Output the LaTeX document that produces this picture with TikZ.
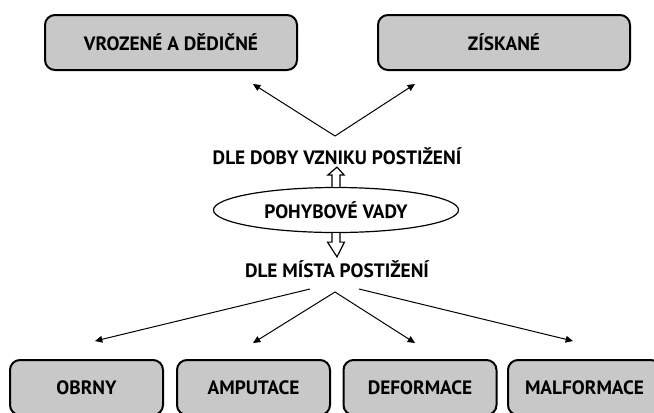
\documentclass[tikz,border=0pt]{standalone}
\usepackage{fontspec}
\setmainfont{PT Sans}
\usetikzlibrary{shapes.geometric, arrows.meta, calc}
\definecolor{boxgray}{HTML}{C8C8C8}

\begin{document}
\begin{tikzpicture}[
    x=0.75pt, y=-0.75pt,
    druh/.style={draw, line width=1.5pt, rectangle, rounded corners=7.5pt, fill=boxgray, minimum width=189pt, minimum height=41.25pt, font=\bfseries\fontsize{14.5}{17}\selectfont},
    misto/.style={druh, minimum width=114.75pt},
    hlavni/.style={draw, line width=0.9pt, ellipse, minimum width=183.75pt, minimum height=33.75pt, inner sep=0pt, font=\bfseries\fontsize{14.5}{17}\selectfont},
    popis/.style={inner sep=1pt, font=\bfseries\fontsize{14.5}{17}\selectfont},
    sipka/.style={line width=0.75pt, -{Triangle[length=5.5pt, width=5pt]}},
    duta/.style={line width=0.9pt, line join=miter, fill=white}
]
\useasboundingbox (0,0) rectangle (654,412);

% Horní kategorie
\node[druh] (vroz) at (171, 42.5) {VROZENÉ A DĚDIČNÉ};
\node[druh] (zisk) at (504, 42.5) {ZÍSKANÉ};

% Střed
\node[popis] (doba) at (337, 156) {DLE DOBY VZNIKU POSTIŽENÍ};
\node[hlavni] (vady) at (336, 210) {POHYBOVÉ VADY};
\node[popis] (mist) at (337, 269) {DLE MÍSTA POSTIŽENÍ};

% Dolní kategorie
\node[misto] (obrn) at (86.5, 387.5) {OBRNY};
\node[misto] (ampu) at (253.5, 387.5) {AMPUTACE};
\node[misto] (defo) at (420, 387.5) {DEFORMACE};
\node[misto] (malf) at (584.5, 387.5) {MALFORMACE};

% Body šipek
\coordinate (h0) at (335, 136);
\coordinate (h1) at (253, 84);
\coordinate (h2) at (415, 84);
\coordinate (d0) at (310, 289);
\coordinate (d1) at (335, 292);
\coordinate (d2) at (359, 289);
\coordinate (e1) at (95, 341);
\coordinate (e2) at (253, 343);
\coordinate (e3) at (415, 343);
\coordinate (e4) at (573, 341);

\draw[sipka] (h0) -- (h1);
\draw[sipka] (h0) -- (h2);

% duté šipky
\draw[duta] (vady.north) ++(-4,0) -- ++(0,-12) -- ++(-4,0) -- ($(doba.south)+(0,1)$)
    -- ($(vady.north)+(8,-12)$) -- ++(-4,0) -- ++(0,12);
\draw[duta] (vady.south) ++(-4,0) -- ++(0,9) -- ++(-4.5,0) -- ($(mist.north)+(0,-2)$)
    -- ($(vady.south)+(8.5,9)$) -- ++(-4.5,0) -- ++(0,-9);

\draw[sipka] (d0) -- (e1);
\draw[sipka] (d1) -- (e2);
\draw[sipka] (d1) -- (e3);
\draw[sipka] (d2) -- (e4);
\end{tikzpicture}
\end{document}
